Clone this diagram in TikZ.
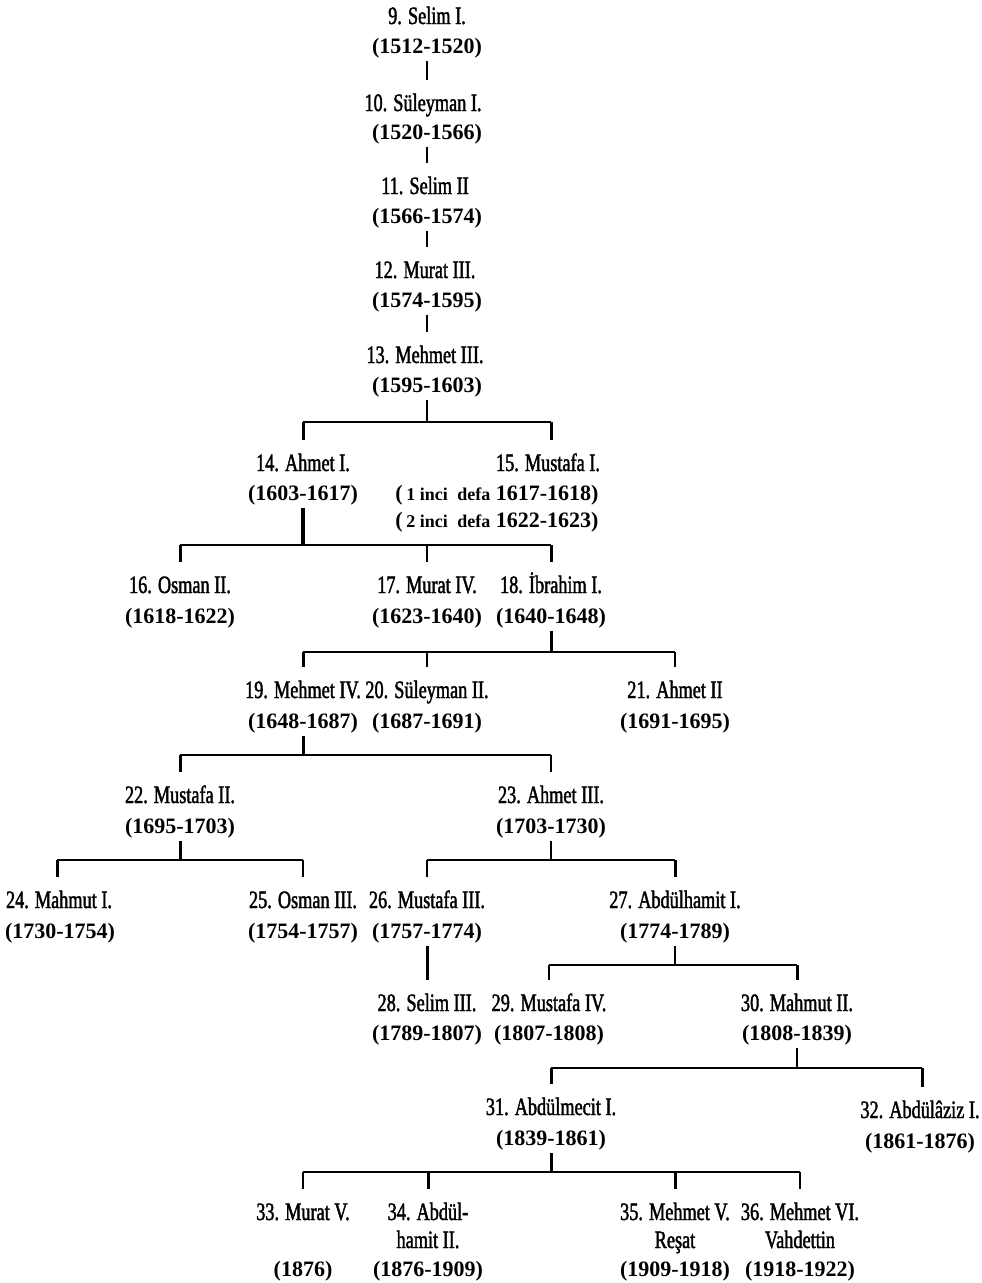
\documentclass[tikz,border=0pt]{standalone}
\usepackage{fontspec}
\setmainfont{Liberation Serif}
\newfontfamily\nmfont[FakeStretch=0.73,FakeBold=1.6]{Liberation Serif}
\tikzset{
  nm/.style={font=\nmfont\fontsize{25}{28}\selectfont, anchor=base, inner sep=0pt,
             text height=15pt, text depth=0pt, outer ysep=16pt},
  nmb/.style={font=\nmfont\fontsize{25}{28}\selectfont, anchor=base, inner sep=0pt},
  yr/.style={font=\bfseries\fontsize{22}{26}\selectfont, anchor=base, inner sep=0pt,
             text height=15pt, text depth=5pt, outer ysep=3pt},
  conn/.style={line width=2.2pt},
  drop/.style={line width=3pt}
}
\newcommand{\sm}[1]{{\fontsize{18}{20}\selectfont #1}}
\begin{document}
\begin{tikzpicture}[x=1pt,y=-1pt]
\useasboundingbox (0,0) rectangle (982,1283);
% rulers
\node[nm] (n9)  at (427,24)  {9. Selim I.};
\node[yr] (y9)  at (427,53)  {(1512-1520)};
\node[nm] (n10) at (423,111) {10. Süleyman I.};
\node[yr] (y10) at (427,139) {(1520-1566)};
\node[nm] (n11) at (425,194) {11. Selim II};
\node[yr] (y11) at (427,223) {(1566-1574)};
\node[nm] (n12) at (425,278) {12. Murat III.};
\node[yr] (y12) at (427,307) {(1574-1595)};
\node[nm] (n13) at (425,363) {13. Mehmet III.};
\node[yr] (y13) at (427,392) {(1595-1603)};
\node[nm] (n14) at (303,471) {14. Ahmet I.};
\node[yr] (y14) at (303,500) {(1603-1617)};
\node[nm] (n15) at (548,471) {15. Mustafa I.};
\node[yr] (y15a) at (497,500) {(\,\sm{1 inci\; defa} 1617-1618)};
\node[yr] (y15b) at (497,527) {(\,\sm{2 inci\; defa} 1622-1623)};
\node[nm] (n16) at (180,593) {16. Osman II.};
\node[yr] (y16) at (180,623) {(1618-1622)};
\node[nm] (n17) at (427,593) {17. Murat IV.};
\node[yr] (y17) at (427,623) {(1623-1640)};
\node[nm] (n18) at (551,593) {18. İbrahim I.};
\node[yr] (y18) at (551,623) {(1640-1648)};
\node[nm] (n19) at (303,698) {19. Mehmet IV.};
\node[yr] (y19) at (303,728) {(1648-1687)};
\node[nm] (n20) at (427,698) {20. Süleyman II.};
\node[yr] (y20) at (427,728) {(1687-1691)};
\node[nm] (n21) at (675,698) {21. Ahmet II};
\node[yr] (y21) at (675,728) {(1691-1695)};
\node[nm] (n22) at (180,803) {22. Mustafa II.};
\node[yr] (y22) at (180,833) {(1695-1703)};
\node[nm] (n23) at (551,803) {23. Ahmet III.};
\node[yr] (y23) at (551,833) {(1703-1730)};
\node[nm] (n24) at (59,908)  {24. Mahmut I.};
\node[yr] (y24) at (60,938)  {(1730-1754)};
\node[nm] (n25) at (303,908) {25. Osman III.};
\node[yr] (y25) at (303,938) {(1754-1757)};
\node[nm] (n26) at (427,908) {26. Mustafa III.};
\node[yr] (y26) at (427,938) {(1757-1774)};
\node[nm] (n27) at (675,908) {27. Abdülhamit I.};
\node[yr] (y27) at (675,938) {(1774-1789)};
\node[nm] (n28) at (427,1011) {28. Selim III.};
\node[yr] (y28) at (427,1040) {(1789-1807)};
\node[nm] (n29) at (549,1011) {29. Mustafa IV.};
\node[yr] (y29) at (549,1040) {(1807-1808)};
\node[nm] (n30) at (797,1011) {30. Mahmut II.};
\node[yr] (y30) at (797,1040) {(1808-1839)};
\node[nm] (n31) at (551,1115) {31. Abdülmecit I.};
\node[yr] (y31) at (551,1145) {(1839-1861)};
\node[nm] (n32) at (920,1118) {32. Abdülâziz I.};
\node[yr] (y32) at (920,1148) {(1861-1876)};
\node[nm] (n33) at (303,1220) {33. Murat V.};
\node[yr] (y33) at (303,1276) {(1876)};
\node[nm] (n34) at (428,1220) {34. Abdül-};
\node[nmb] (n34b) at (428,1248) {hamit II.};
\node[yr] (y34) at (428,1276) {(1876-1909)};
\node[nm] (n35) at (675,1220) {35. Mehmet V.};
\node[nmb] (n35b) at (675,1248) {Reşat};
\node[yr] (y35) at (675,1276) {(1909-1918)};
\node[nm] (n36) at (800,1220) {36. Mehmet VI.};
\node[nmb] (n36b) at (800,1248) {Vahdettin};
\node[yr] (y36) at (800,1276) {(1918-1922)};
% bar levels
\coordinate (b13) at (0,422);
\coordinate (b14) at (0,545);
\coordinate (b18) at (0,652);
\coordinate (b19) at (0,755);
\coordinate (b22) at (0,860);
\coordinate (b23) at (0,860);
\coordinate (b27) at (0,965);
\coordinate (b30) at (0,1068);
\coordinate (b31) at (0,1172);
% single line succession
\draw[conn] (y9.south)  -- (n10.north -| y9.south);
\draw[conn] (y10.south) -- (n11.north -| y10.south);
\draw[conn] (y11.south) -- (n12.north -| y11.south);
\draw[conn] (y12.south) -- (n13.north -| y12.south);
\draw[drop] (y26.south) -- (n28.north);
% 13 -> 14, 15
\draw[conn] (y13.south) -- (y13.south |- b13);
\draw[conn] (n14.north |- b13) -- (551,422);
\draw[drop] (n14.north |- b13) -- (n14.north);
\draw[drop] (551,422) -- (n15.north -| 551,0);
% 14 -> 16, 17, 18
\draw[line width=3.5pt] (y14.south) -- (y14.south |- b14);
\draw[conn] (n16.north |- b14) -- (n18.north |- b14);
\draw[drop] (n16.north |- b14) -- (n16.north);
\draw[conn] (n17.north |- b14) -- (n17.north);
\draw[drop] (n18.north |- b14) -- (n18.north);
% 18 -> 19, 20, 21
\draw[drop] (y18.south) -- (y18.south |- b18);
\draw[conn] (n19.north |- b18) -- (n21.north |- b18);
\draw[drop] (n19.north |- b18) -- (n19.north);
\draw[conn] (n20.north |- b18) -- (n20.north);
\draw[conn] (n21.north |- b18) -- (n21.north);
% 19 -> 22, 23
\draw[drop] (y19.south) -- (y19.south |- b19);
\draw[conn] (n22.north |- b19) -- (n23.north |- b19);
\draw[drop] (n22.north |- b19) -- (n22.north);
\draw[conn] (n23.north |- b19) -- (n23.north);
% 22 -> 24, 25
\draw[drop] (y22.south) -- (y22.south |- b22);
\draw[conn] (57,860) -- (n25.north |- b22);
\draw[drop] (57,860) -- (n24.north -| 57,0);
\draw[conn] (n25.north |- b22) -- (n25.north);
% 23 -> 26, 27
\draw[conn] (y23.south) -- (y23.south |- b23);
\draw[conn] (n26.north |- b23) -- (n27.north |- b23);
\draw[conn] (n26.north |- b23) -- (n26.north);
\draw[drop] (n27.north |- b23) -- (n27.north);
% 27 -> 29, 30
\draw[conn] (y27.south) -- (y27.south |- b27);
\draw[conn] (n29.north |- b27) -- (n30.north |- b27);
\draw[conn] (n29.north |- b27) -- (n29.north);
\draw[drop] (n30.north |- b27) -- (n30.north);
% 30 -> 31, 32
\draw[conn] (y30.south) -- (y30.south |- b30);
\draw[conn] (n31.north |- b30) -- (922,1068);
\draw[drop] (n31.north |- b30) -- (n31.north);
\draw[drop] (922,1068) -- (n32.north -| 922,0);
% 31 -> 33..36
\draw[drop] (y31.south) -- (y31.south |- b31);
\draw[conn] (n33.north |- b31) -- (n36.north |- b31);
\draw[conn] (n33.north |- b31) -- (n33.north);
\draw[drop] (n34.north |- b31) -- (n34.north);
\draw[drop] (n35.north |- b31) -- (n35.north);
\draw[conn] (n36.north |- b31) -- (n36.north);
\end{tikzpicture}
\end{document}
